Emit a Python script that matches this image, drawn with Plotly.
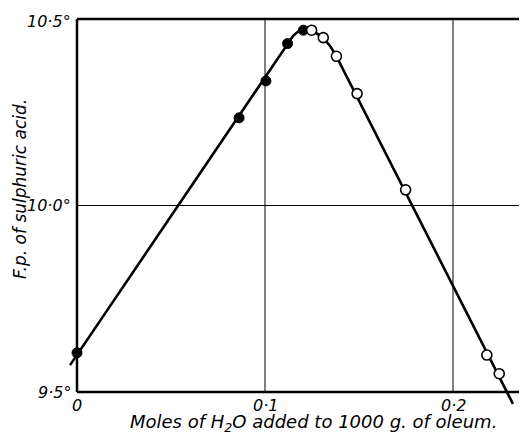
import plotly.graph_objects as go

# Data
filled_x = [0.0, 0.0862, 0.1005, 0.112, 0.1204]
filled_y = [9.605, 10.235, 10.334, 10.434, 10.470]
open_x = [0.1248, 0.131, 0.138, 0.149, 0.1748, 0.218, 0.2246]
open_y = [10.470, 10.450, 10.400, 10.300, 10.042, 9.599, 9.549]
curve_x = [-0.0037, 0.112, 0.115, 0.118, 0.121, 0.124, 0.127, 0.131, 0.135, 0.138, 0.2319]
curve_y = [9.572, 10.434, 10.455, 10.468, 10.474, 10.473, 10.464, 10.450, 10.425, 10.400, 9.468]
xtick_vals = [0, 0.1, 0.2]
xtick_text = ["0", "0·1", "0·2"]
ytick_vals = [9.5, 10.0, 10.5]
ytick_text = ["9·5°", "10·0°", "10·5°"]

# The page body has an 8 px margin, so the figure is drawn at (8, 8) in the window.
OFF = 8
WIN_W, WIN_H = 527, 435
W, H = WIN_W - OFF, WIN_H - OFF
# window-pixel mapping: x=0 at px 77, 0.1 per 188 px; y=10.5 at py 19, 1.0 per 373 px
x0px, xscale = 77 - OFF, 1880.0
y0px, yscale = 19 - OFF, 373.0
xr = [-x0px / xscale, (W - x0px) / xscale]
yr = [10.5 - (H - y0px) / yscale, 10.5 + y0px / yscale]
xmax = xr[1]
xright = (525 - OFF - x0px) / xscale


def px_to_x(px):
    return (px - OFF - x0px) / xscale


def py_to_y(py):
    return 10.5 - (py - OFF - y0px) / yscale


FONT = "DejaVu Sans"

fig = go.Figure()
fig.add_trace(go.Scatter(x=curve_x, y=curve_y, mode="lines",
                         line=dict(color="black", width=2.6), hoverinfo="skip"))
fig.add_trace(go.Scatter(x=filled_x, y=filled_y, mode="markers", cliponaxis=False,
                         marker=dict(symbol="circle", size=10, color="black",
                                     line=dict(color="black", width=1))))
fig.add_trace(go.Scatter(x=open_x, y=open_y, mode="markers", cliponaxis=False,
                         marker=dict(symbol="circle", size=10, color="white",
                                     line=dict(color="black", width=1.6))))

shapes = []
# frame
shapes.append(dict(type="line", x0=0, x1=0, y0=9.5, y1=10.5, line=dict(color="black", width=2.5)))
shapes.append(dict(type="line", x0=0, x1=xmax, y0=9.5, y1=9.5, line=dict(color="black", width=2.5)))
shapes.append(dict(type="line", x0=0, x1=xmax, y0=10.5, y1=10.5, line=dict(color="black", width=2.5)))
shapes.append(dict(type="line", x0=xright, x1=xright, y0=9.5, y1=10.5, line=dict(color="#555", width=1)))
# grid
for gx in xtick_vals[1:]:
    shapes.append(dict(type="line", x0=gx, x1=gx, y0=9.5, y1=10.5, line=dict(color="black", width=1), layer="below"))
shapes.append(dict(type="line", x0=0, x1=xmax, y0=10.0, y1=10.0, line=dict(color="black", width=1), layer="below"))

annotations = []
for v, t in zip(xtick_vals, xtick_text):
    annotations.append(dict(x=v, y=9.5, xref="x", yref="y", text=t, showarrow=False,
                            xanchor="center", yanchor="top", yshift=-2,
                            font=dict(family=FONT, size=16, color="black", style="italic")))
for v, t in zip(ytick_vals, ytick_text):
    annotations.append(dict(x=0, y=v, xref="x", yref="y", text=t, showarrow=False,
                            xanchor="right", yanchor="middle", xshift=-4,
                            yshift=-2 if v == 10.5 else 0,
                            font=dict(family=FONT, size=16, color="black", style="italic")))
annotations.append(dict(x=px_to_x(313), y=py_to_y(423), xref="x", yref="y",
                        text="Moles of H<sub>2</sub>O added to 1000 g. of oleum.", showarrow=False,
                        xanchor="center", yanchor="middle",
                        font=dict(family=FONT, size=18, color="black", style="italic")))
annotations.append(dict(x=px_to_x(20), y=py_to_y(189), xref="x", yref="y",
                        text="F.p. of sulphuric acid.", showarrow=False, textangle=-90,
                        xanchor="center", yanchor="middle",
                        font=dict(family=FONT, size=17, color="black", style="italic")))

fig.update_layout(
    width=W, height=H,
    margin=dict(l=0, r=0, t=0, b=0),
    paper_bgcolor="white", plot_bgcolor="white",
    showlegend=False,
    xaxis=dict(range=xr, visible=False, fixedrange=True),
    yaxis=dict(range=yr, visible=False, fixedrange=True),
    shapes=shapes, annotations=annotations,
)
fig.write_html("out.html")
